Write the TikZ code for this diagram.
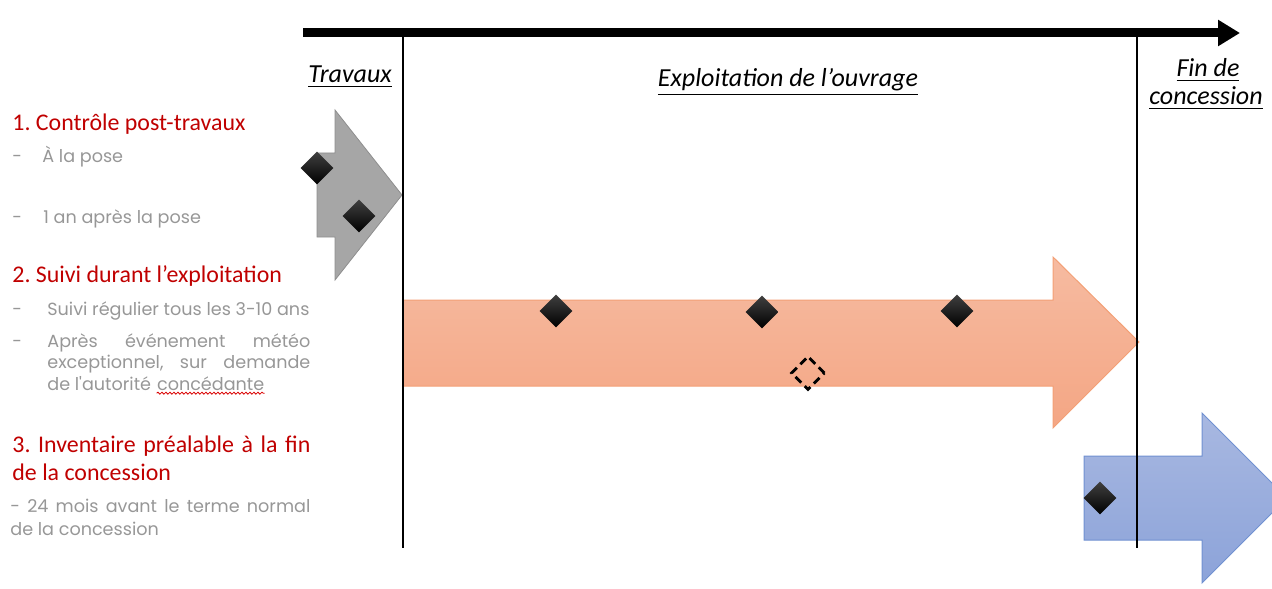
\documentclass[tikz,border=0pt]{standalone}
\usepackage{fontspec}
\setmainfont{Carlito}
\newfontfamily\gothicfont{Poppins}
\usetikzlibrary{arrows.meta, positioning, shapes.geometric, decorations.pathmorphing}
\definecolor{cred}{HTML}{C00000}
\definecolor{cgreytext}{HTML}{979797}
\definecolor{cgreyfill}{HTML}{A6A6A6}
\definecolor{cgreyline}{HTML}{8E8E8E}
\definecolor{corangetop}{HTML}{F6BBA1}
\definecolor{corangebot}{HTML}{F4A684}
\definecolor{corangeline}{HTML}{F3A076}
\definecolor{cbluetop}{HTML}{A8B8E1}
\definecolor{cbluebot}{HTML}{8CA3D9}
\definecolor{cblueline}{HTML}{7091D1}
\frenchspacing
\tikzset{
  heading/.style={anchor=base west, inner sep=0pt, text=cred, font=\fontsize{11.95}{14}\selectfont},
  itemtext/.style={anchor=base west, inner sep=0pt, text=cgreytext, font=\gothicfont\fontsize{8.8}{11}\selectfont},
  phase/.style={anchor=base, inner sep=0pt, font=\itshape\fontsize{13}{15}\selectfont},
  milestone/.style={diamond, inner sep=0pt, minimum width=16.5pt, minimum height=16.5pt, top color=black!75, bottom color=black, draw=none},
  plannedmilestone/.style={diamond, inner sep=0pt, minimum width=17pt, minimum height=17pt, draw=black, line width=1.4pt, dash pattern=on 4pt off 2.5pt},
  greyarrow/.style={fill=cgreyfill, draw=cgreyline, line width=0.4pt},
  orangearrow/.style={top color=corangetop, bottom color=corangebot, draw=corangeline, line width=0.5pt},
  bluearrow/.style={top color=cbluetop, bottom color=cbluebot, draw=cblueline, line width=0.5pt},
  timeline/.style={line width=4.5pt, -{Triangle[length=11pt, width=12.5pt]}},
  limit/.style={line width=1.3pt},
  spellcheck/.style={draw=red!85!black, line width=0.4pt, decorate, decoration={snake, amplitude=0.5pt, segment length=2pt}},
}

\begin{document}
\begin{tikzpicture}[x=0.5pt, y=-0.5pt]
  \useasboundingbox (0,0) rectangle (1272,588);
  % phase arrows
  \draw[greyarrow] (317,153) -- (335,153) -- (335,110) -- (402,195) -- (335,280) -- (335,237) -- (317,237) -- cycle;
  \draw[orangearrow] (403,300) -- (1053,300) -- (1053,257) -- (1139,342) -- (1053,428) -- (1053,386) -- (403,386) -- cycle;
  \begin{scope}
    \clip (0,0) rectangle (1272,588);
    \draw[bluearrow] (1084,456) -- (1202,456) -- (1202,413) -- (1287,498) -- (1202,583) -- (1202,540) -- (1084,540) -- cycle;
  \end{scope}
  % time axis and phase limits
  \coordinate (tstart) at (303,33);
  \coordinate (tend) at (1240,33);
  \coordinate (travtop) at (403,37);
  \coordinate (travbot) at (403,548);
  \coordinate (fintop) at (1137,37);
  \coordinate (finbot) at (1137,548);
  \draw[timeline] (tstart) -- (tend);
  \draw[limit] (travtop) -- (travbot);
  \draw[limit] (fintop) -- (finbot);
  % phases
  \node[phase] (travaux) at (350,83) {\underline{Travaux}};
  \node[phase] (exploit) at (788,87) {\underline{Exploitation de l’ouvrage}};
  \node[phase] (finA) at (1208,77) {\underline{Fin de}};
  \node[phase] (finB) at (1206,105) {\underline{concession}};
  % milestones
  \node[milestone] (pose) at (317,168) {};
  \node[milestone] (unan) at (359,216) {};
  \node[milestone] (suiviA) at (556,311) {};
  \node[milestone] (suiviB) at (762,312) {};
  \node[milestone] (suiviC) at (957,311) {};
  \node[plannedmilestone] (meteo) at (808,373) {};
  \node[milestone] (inventaire) at (1100,498) {};
  % left column
  \node[heading] (hcontrole) at (12,131) {1. Contrôle post-travaux};
  \node[itemtext] (dposeA) at (12,163) {-};
  \node[itemtext] (tposeA) at (42,163) {À la pose};
  \node[itemtext] (dposeB) at (12,223) {-};
  \node[itemtext] (tposeB) at (43,223) {1 an après la pose};
  \node[heading] (hsuivi) at (12,282) {2. Suivi durant l’exploitation};
  \node[itemtext] (dsuiviA) at (12,315) {-};
  \node[itemtext] (tsuiviA) at (47,315) {Suivi régulier tous les 3-10 ans};
  \node[itemtext] (dsuiviB) at (12,347) {-};
  \node[itemtext] (tsuiviB) at (47,347) {\makebox[131.5pt][s]{Après événement météo}};
  \node[itemtext] (tsuiviC) at (47,368) {\makebox[131.5pt][s]{exceptionnel, sur demande}};
  \node[itemtext] (tsuiviD) at (47,390) {de l'autorité};
  \node[itemtext, anchor=base west] (concedante) at ([xshift=2.6pt]tsuiviD.base east) {concédante};
  \draw[spellcheck] ([yshift=-1.6pt]concedante.base west) -- ([yshift=-1.6pt]concedante.base east);
  \node[heading] (hinvA) at (12,452) {\makebox[149pt][s]{3. Inventaire préalable à la fin}};
  \node[heading] (hinvB) at (12,480) {de la concession};
  \node[itemtext] (tinvA) at (10,512) {\makebox[150pt][s]{- 24 mois avant le terme normal}};
  \node[itemtext] (tinvB) at (10,535) {de la concession};
\end{tikzpicture}
\end{document}
